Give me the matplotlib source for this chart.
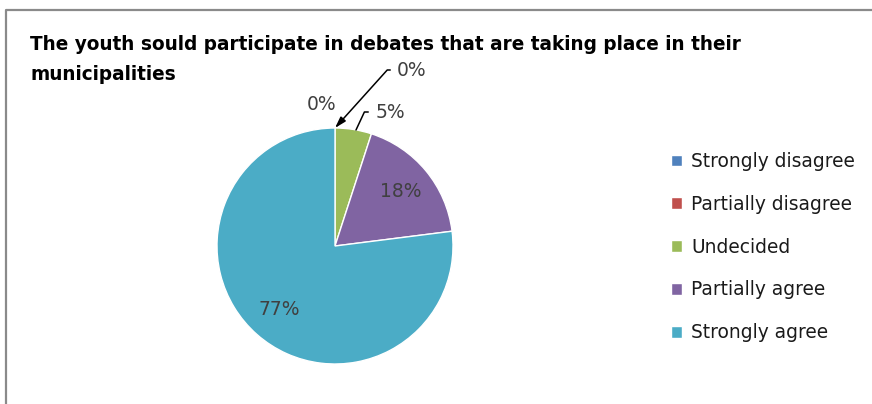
import matplotlib.pyplot as plt
import numpy as np
from matplotlib.lines import Line2D

title_lines = ['The youth sould participate in debates that are taking place in their',
               'municipalities']
categories = ['Strongly disagree', 'Partially disagree', 'Undecided', 'Partially agree', 'Strongly agree']
values = [0, 0, 5, 18, 77]
colors = ['#4F81BD', '#C0504D', '#9BBB59', '#8064A2', '#4BACC6']

W, H = 872, 404
fig = plt.figure(figsize=(W / 100, H / 100), dpi=100)
plt.rcParams['font.family'] = ['DejaVu Sans']

# gray frame (only top and left edges visible in the crop)
fig.add_artist(Line2D([6 / W, 6 / W, 1], [0, 1 - 10 / H, 1 - 10 / H],
                      transform=fig.transFigure, color='#8a8a8a', lw=1.6))

# title as two separate lines
for k, line in enumerate(title_lines):
    fig.text(30 / W, 1 - (45 + 30 * k) / H, line, fontsize=13.35, fontweight='bold',
             va='center', ha='left', color='#000000')

# pie axes: center (335, 246) px, radius 118 px
cx, cy, r = 335, 246, 118
ax = fig.add_axes([(cx - r) / W, (H - cy - r) / H, 2 * r / W, 2 * r / H])
ax.set_aspect('equal')
wedges, _ = ax.pie(values, colors=colors, startangle=90, counterclock=False,
                   radius=1, wedgeprops=dict(edgecolor='white', linewidth=1.0))
ax.set_xlim(-1, 1)
ax.set_ylim(-1, 1)
ax.axis('off')

def px(x, y):
    return ((x - cx) / r, (cy - y) / r)

fs = 13.5
# inner labels
for i, dist in [(3, 0.72), (4, 0.72)]:
    w = wedges[i]
    ang = np.deg2rad((w.theta1 + w.theta2) / 2)
    ax.text(dist * np.cos(ang), dist * np.sin(ang), f'{values[i]}%',
            ha='center', va='center', fontsize=fs, color='#404040')

# outer labels with leader lines
ax.text(*px(322, 105), f'{values[0]}%', ha='center', va='center', fontsize=fs, color='#404040')
ax.annotate(f'{values[1]}%', xy=px(335, 128), xytext=px(412, 70),
            ha='center', va='center', fontsize=fs, color='#404040',
            arrowprops=dict(arrowstyle='-|>,head_length=0.5,head_width=0.15', color='black', lw=1.1,
                            shrinkA=3, shrinkB=0,
                            connectionstyle='angle,angleA=0,angleB=48,rad=0',
                            relpos=(0, 0.5)),
            annotation_clip=False)
ax.annotate(f'{values[2]}%', xy=px(356, 130), xytext=px(390, 112),
            ha='center', va='center', fontsize=fs, color='#404040',
            arrowprops=dict(arrowstyle='-', color='black', lw=1.1,
                            shrinkA=3, shrinkB=0,
                            connectionstyle='angle,angleA=0,angleB=65,rad=0',
                            relpos=(0, 0.5)),
            annotation_clip=False)

leg = fig.legend(wedges, categories, loc='upper left', bbox_to_anchor=(671 / W, 1 - 152 / H),
                 frameon=False, fontsize=13.4, handlelength=0.6, handleheight=0.6,
                 handletextpad=0.5, labelspacing=1.28, borderaxespad=0, borderpad=0)
for t in leg.get_texts():
    t.set_color('#1a1a1a')

fig.savefig('out.png', dpi=100)
